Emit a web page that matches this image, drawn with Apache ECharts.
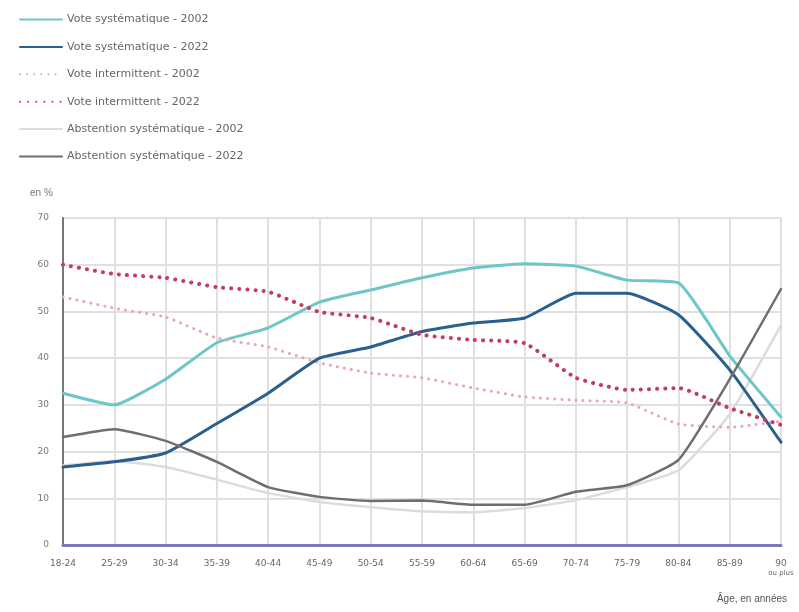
<!DOCTYPE html>
<html>

<head>
    <meta charset="utf-8">
    <title>Vote par âge</title>
    <script src="https://cdn.jsdelivr.net/npm/echarts@6/dist/echarts.min.js"></script>
    <style>
        body { margin: 0; background: #fff; }
    </style>
</head>

<body>
    <div id="main" style="width: 799px;height:612px;"></div>
    <script type="text/javascript">
        // tranches d'âge
        var ages = ['18-24', '25-29', '30-34', '35-39', '40-44', '45-49', '50-54', '55-59',
            '60-64', '65-69', '70-74', '75-79', '80-84', '85-89', '90'];
        var yTicks = [0, 10, 20, 30, 40, 50, 60, 70];

        // valeurs (en %)
        var systematique2002 = [32.5, 30, 35.5, 43.3, 46.5, 52, 54.6, 57.2, 59.3, 60.2, 59.7, 56.7, 56.1, 40.5, 27.4];
        var systematique2022 = [16.7, 17.8, 19.7, 26, 32.5, 40, 42.4, 45.7, 47.5, 48.6, 53.9, 53.9, 49.3, 37.5, 22];
        var intermittent2002 = [53.1, 50.7, 48.8, 44.3, 42.4, 39, 36.8, 35.8, 33.6, 31.7, 31, 30.4, 25.9, 25.2, 26.5];
        var intermittent2022 = [60, 58, 57.2, 55.2, 54.2, 49.9, 48.6, 45, 43.9, 43.2, 35.8, 33.2, 33.6, 29.3, 25.7];
        var abstention2002 = [17, 18, 16.7, 14, 11.1, 9.2, 8.1, 7.2, 7, 7.9, 9.6, 12.4, 16, 28, 47];
        var abstention2022 = [23.1, 24.8, 22.3, 17.8, 12.4, 10.3, 9.4, 9.5, 8.6, 8.6, 11.4, 12.8, 18.2, 35.5, 54.8];

        var myChart = echarts.init(document.getElementById('main'));

        function serie(name, data, color, width, type, z) {
            return {
                name: name,
                type: 'line',
                data: data,
                symbol: 'none',
                smooth: 0.15,
                z: z,
                lineStyle: { color: color, width: width, type: type, cap: 'round' },
                itemStyle: { color: color }
            };
        }

        var option = {
            backgroundColor: '#fff',
            animation: false,
            textStyle: { fontFamily: 'DejaVu Sans' },
            legend: {
                orient: 'vertical',
                left: 14,
                top: 6,
                itemWidth: 42,
                itemHeight: 14,
                itemGap: 10.4,
                itemStyle: { opacity: 0 },
                textStyle: { fontSize: 11, color: '#666', lineHeight: 17 },
                data: ['Vote systématique - 2002', 'Vote systématique - 2022', 'Vote intermittent - 2002',
                    'Vote intermittent - 2022', 'Abstention systématique - 2002', 'Abstention systématique - 2022']
            },
            grid: {
                left: 63,
                right: 18,
                top: 218,
                bottom: 67
            },
            graphic: [
                { type: 'text', left: 30, top: 188, style: { text: 'en %', fontSize: 10, fill: '#777' } },
                { type: 'text', right: 12, top: 594, style: { text: 'Âge, en années', fontSize: 10, fill: '#555' } }
            ],
            xAxis: {
                type: 'category',
                boundaryGap: false,
                data: ages,
                axisTick: { show: false },
                axisLine: { lineStyle: { color: '#7a78b8', width: 3 } },
                splitLine: { show: true, lineStyle: { color: '#e0e0e0', width: 2 } },
                axisLabel: {
                    fontSize: 9,
                    color: '#666',
                    margin: 14,
                    interval: 0,
                    formatter: function (v) {
                        return v === '90' ? '90\n{s|ou plus}' : v;
                    },
                    rich: { s: { fontSize: 7, color: '#666', align: 'left', padding: [2, 0, 0, 0] } }
                }
            },
            yAxis: {
                type: 'value',
                min: 0,
                max: 70,
                interval: 10,
                axisLine: { show: true, lineStyle: { color: '#777', width: 2 } },
                axisTick: { show: false },
                splitLine: { lineStyle: { color: '#e0e0e0', width: 2 } },
                axisLabel: {
                    fontSize: 9,
                    color: '#777',
                    margin: 14,
                    formatter: function (v) { return yTicks.indexOf(v) >= 0 ? v : ''; }
                }
            },
            series: [
                serie('Vote systématique - 2002', systematique2002, '#6fc6c9', 3, 'solid', 3),
                serie('Vote systématique - 2022', systematique2022, '#2b5f8e', 3, 'solid', 4),
                serie('Vote intermittent - 2002', intermittent2002, '#e8a6b8', 3, [0.1, 7], 3),
                serie('Vote intermittent - 2022', intermittent2022, '#c23e5e', 4, [0.1, 8], 4),
                serie('Abstention systématique - 2002', abstention2002, '#dcdcdc', 2.5, 'solid', 2),
                serie('Abstention systématique - 2022', abstention2022, '#6e6e6e', 2.5, 'solid', 5)
            ]
        };

        myChart.setOption(option);
    </script>
</body>

</html>
